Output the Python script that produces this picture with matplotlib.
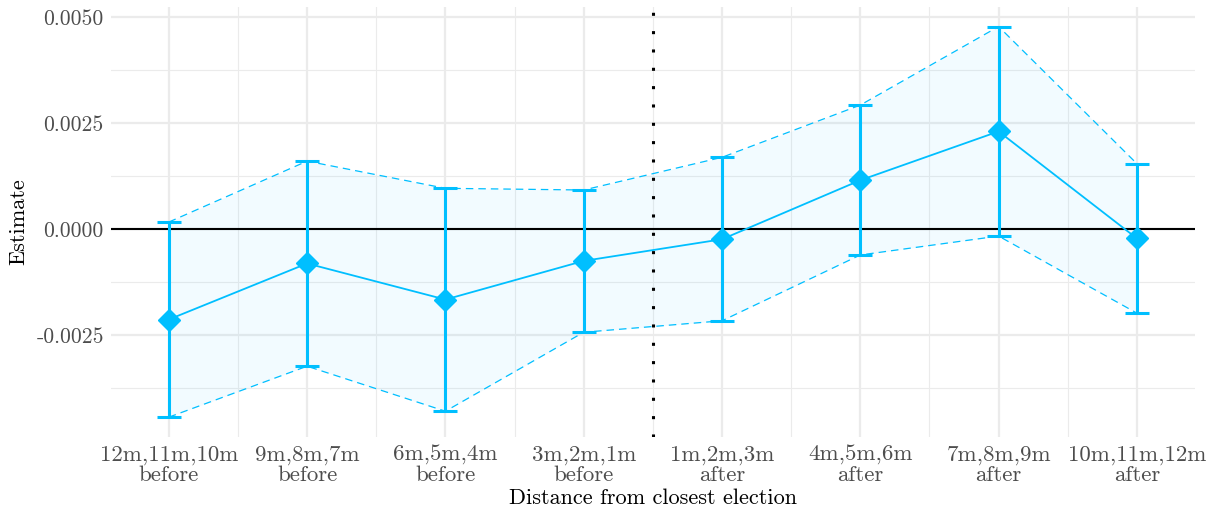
import matplotlib.pyplot as plt
import numpy as np

plt.rcParams['font.family'] = ['cmr10', 'DejaVu Serif']
plt.rcParams['axes.formatter.use_mathtext'] = True

labels = ['12m,11m,10m\nbefore', '9m,8m,7m\nbefore', '6m,5m,4m\nbefore', '3m,2m,1m\nbefore',
          '1m,2m,3m\nafter', '4m,5m,6m\nafter', '7m,8m,9m\nafter', '10m,11m,12m\nafter']
estimate = [-0.00213, -0.00081, -0.00166, -0.00075, -0.00024, 0.00115, 0.00230, -0.00022]
upper = [0.000165, 0.00160, 0.00096, 0.00092, 0.00169, 0.00292, 0.00477, 0.00154]
lower = [-0.00443, -0.00323, -0.00429, -0.00243, -0.00216, -0.00061, -0.000165, -0.00198]

blue = '#00BFFF'
x = np.arange(1, len(labels) + 1)
est = np.array(estimate)
up = np.array(upper)
lo = np.array(lower)

fig = plt.figure(figsize=(12.26, 5.16), dpi=100)
ax = fig.add_axes([0.0903, 0.1537, 0.8844, 0.8327])

# ribbon + dashed bounds
ax.fill_between(x, lo, up, color=blue, alpha=0.05, linewidth=0, zorder=2)
ax.plot(x, up, color=blue, lw=0.9, ls=(0, (6, 4)), zorder=3)
ax.plot(x, lo, color=blue, lw=0.9, ls=(0, (6, 4)), zorder=3)

ax.axhline(0, color='black', lw=1.5, zorder=3)
ax.axvline(4.5, color='black', lw=2.2, ls=(0, (1, 5)), zorder=3)

ax.errorbar(x, est, yerr=[est - lo, up - est], fmt='none', ecolor=blue,
            elinewidth=2.2, capsize=8.5, capthick=2.2, zorder=4)
ax.plot(x, est, color=blue, lw=1.3, marker='D', markersize=11, zorder=5)

ax.set_xlim(0.58, 8.42)
rng = up.max() - lo.min()
ax.set_ylim(lo.min() - 0.05 * rng, up.max() + 0.05 * rng)

ax.set_xticks(x)
ax.set_xticklabels(labels, linespacing=1.05)
ax.set_xticks(x[:-1] + 0.5, minor=True)
yt = [-0.0025, 0.0, 0.0025, 0.005]
ax.set_yticks(yt)
ax.set_yticklabels(['-0.0025', '0.0000', '0.0025', '0.0050'])
ax.set_yticks([-0.00375, -0.00125, 0.00125, 0.00375], minor=True)

ax.grid(which='major', color='#EBEBEB', lw=1.6, zorder=0)
ax.grid(which='minor', color='#EBEBEB', lw=0.8, zorder=0)
ax.set_axisbelow(True)
ax.tick_params(which='both', length=0, labelcolor='#4D4D4D')
ax.tick_params(axis='x', pad=6, labelsize=16.5)
ax.tick_params(axis='y', pad=5, labelsize=15.5)
for s in ax.spines.values():
    s.set_visible(False)

ax.set_xlabel('Distance from closest election', fontsize=16, labelpad=2)
ax.set_ylabel('Estimate', fontsize=16, labelpad=6)

fig.savefig('out.png', dpi=100)
